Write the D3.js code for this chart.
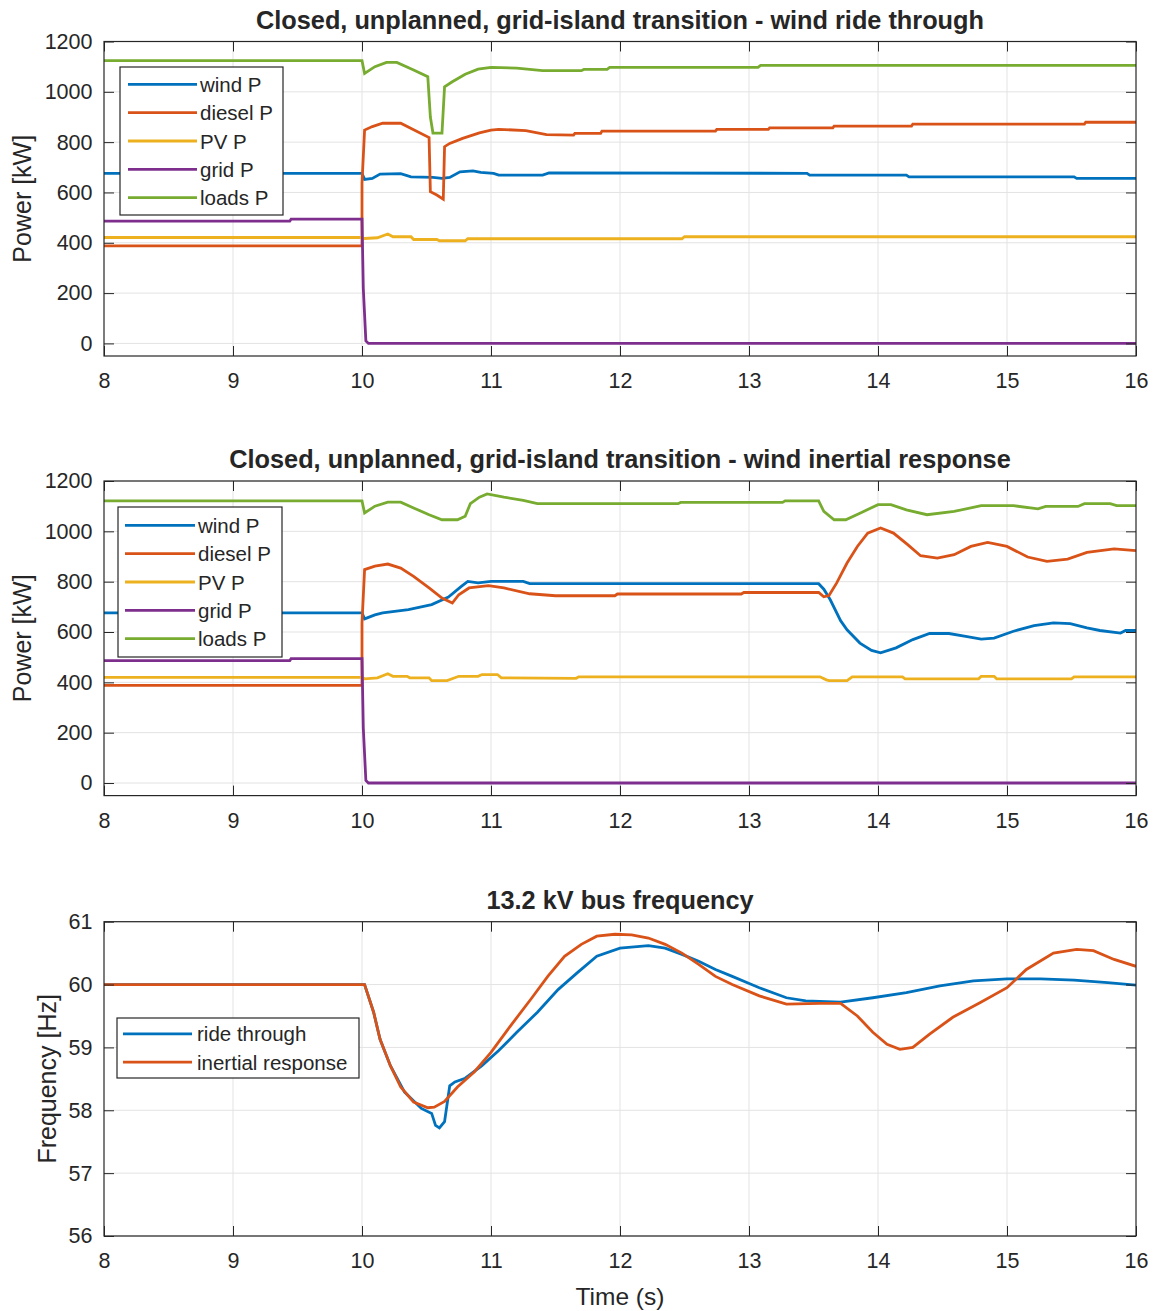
<!DOCTYPE html>
<html>
<head>
<meta charset="utf-8">
<script src="https://cdn.jsdelivr.net/npm/d3@7"></script>
<style>
  html, body { margin: 0; padding: 0; background: #fff; }
  svg { display: block; }
  text { font-family: "Liberation Sans", Arial, Helvetica, sans-serif; fill: #262626; }
</style>
</head>
<body>
<svg id="chart" width="1155" height="1311"></svg>
<script>
// ---------------- DATA ----------------
const xTicks = [8, 9, 10, 11, 12, 13, 14, 15, 16];
const powerTicks = [0, 200, 400, 600, 800, 1000, 1200];
const freqTicks = [56, 57, 58, 59, 60, 61];

const powerLabels = ["wind P", "diesel P", "PV P", "grid P", "loads P"];
const freqLabels = ["ride through", "inertial response"];

const titles = [
  "Closed, unplanned, grid-island transition - wind ride through",
  "Closed, unplanned, grid-island transition - wind inertial response",
  "13.2 kV bus frequency"
];

// Panel 1: wind ride through  [time s, kW]
const rtWind = [[8,676],[10.0,676],[10.02,652],[10.08,656],[10.14,673],[10.3,675],[10.38,662],[10.55,660],[10.62,656],[10.68,660],[10.76,682],[10.86,686],[10.92,680],[11.02,676],[11.06,669],[11.4,669],[11.45,678],[13.45,676],[13.47,669],[14.22,669],[14.24,662],[15.52,662],[15.54,656],[16,656]];
const rtDiesel = [[8,388],[10.0,388],[10.0,637],[10.02,848],[10.08,862],[10.16,875],[10.3,875],[10.52,818],[10.53,603],[10.58,590],[10.63,573],[10.64,782],[10.68,795],[10.78,815],[10.91,837],[11.0,848],[11.06,851],[11.27,846],[11.43,830],[11.64,828],[11.65,835],[11.85,835],[11.86,844],[12.74,844],[12.75,851],[13.15,851],[13.16,857],[13.65,857],[13.66,864],[14.26,864],[14.27,872],[15.6,872],[15.61,879],[16,879]];
const rtPV = [[8,421],[10.0,421],[10.02,417],[10.12,420],[10.2,435],[10.24,424],[10.38,424],[10.4,413],[10.58,413],[10.6,408],[10.8,408],[10.82,416],[12.48,416],[12.5,424],[16,424]];
const rtGrid = [[8,486],[9.44,486],[9.45,494],[10.0,494],[10.01,219],[10.03,10],[10.05,0],[16,0]];
const rtLoads = [[8,1124],[10.0,1124],[10.02,1073],[10.1,1100],[10.19,1117],[10.27,1117],[10.4,1087],[10.51,1060],[10.53,900],[10.55,836],[10.62,836],[10.64,1020],[10.7,1040],[10.8,1070],[10.9,1090],[11.0,1097],[11.2,1094],[11.4,1084],[11.7,1084],[11.72,1089],[11.9,1089],[11.92,1097],[13.07,1097],[13.09,1105],[16,1105]];

// Panel 2: wind inertial response  [time s, kW]
const irWind = [[8,676],[10.0,676],[10.02,652],[10.1,668],[10.16,676],[10.36,689],[10.54,709],[10.67,739],[10.77,781],[10.82,801],[10.9,795],[11.0,801],[11.25,801],[11.3,792],[13.54,792],[13.58,770],[13.63,728],[13.71,645],[13.76,609],[13.86,556],[13.95,527],[14.02,517],[14.14,537],[14.27,570],[14.4,594],[14.55,594],[14.68,583],[14.8,572],[14.9,576],[15.05,603],[15.21,625],[15.36,636],[15.49,633],[15.62,616],[15.72,606],[15.88,596],[15.92,606],[16,606]];
const irDiesel = [[8,388],[10.0,388],[10.0,636],[10.02,848],[10.1,862],[10.2,870],[10.3,854],[10.4,821],[10.52,775],[10.62,735],[10.7,715],[10.75,748],[10.83,775],[10.98,784],[11.1,775],[11.3,752],[11.5,744],[11.96,744],[11.98,751],[12.94,751],[12.96,757],[13.54,757],[13.58,740],[13.62,745],[13.68,795],[13.76,874],[13.84,940],[13.92,993],[14.02,1013],[14.12,993],[14.23,947],[14.33,903],[14.46,894],[14.59,907],[14.72,940],[14.85,956],[15.0,940],[15.16,898],[15.31,881],[15.47,890],[15.62,916],[15.83,930],[16,923]];
const irPV = [[8,420],[10.0,420],[10.02,414],[10.12,418],[10.2,434],[10.24,424],[10.35,424],[10.37,418],[10.52,418],[10.54,407],[10.66,407],[10.75,424],[10.9,424],[10.93,431],[11.05,431],[11.08,418],[11.66,416],[11.68,422],[13.55,422],[13.6,410],[13.62,407],[13.76,407],[13.8,422],[14.19,422],[14.21,414],[14.78,414],[14.8,424],[14.9,424],[14.92,414],[15.5,414],[15.52,422],[16,422]];
const irGrid = [[8,486],[9.44,486],[9.45,494],[10.0,494],[10.01,219],[10.03,10],[10.05,0],[16,0]];
const irLoads = [[8,1121],[10.0,1121],[10.02,1073],[10.1,1100],[10.2,1116],[10.3,1116],[10.4,1093],[10.52,1066],[10.62,1046],[10.74,1046],[10.8,1060],[10.84,1110],[10.91,1136],[10.97,1149],[11.1,1136],[11.25,1123],[11.36,1110],[12.45,1110],[12.47,1115],[13.26,1115],[13.28,1121],[13.54,1121],[13.58,1079],[13.66,1046],[13.75,1046],[13.86,1072],[14.0,1106],[14.1,1106],[14.22,1085],[14.38,1066],[14.59,1079],[14.8,1102],[15.05,1102],[15.24,1089],[15.3,1099],[15.55,1099],[15.6,1110],[15.8,1110],[15.85,1102],[16,1102]];

// Panel 3: 13.2 kV bus frequency  [time s, Hz]
const freqRide = [[8,60],[10.02,60],[10.09,59.56],[10.14,59.13],[10.22,58.71],[10.33,58.29],[10.46,58.03],[10.54,57.95],[10.57,57.76],[10.6,57.72],[10.64,57.82],[10.68,58.39],[10.72,58.45],[10.8,58.51],[10.93,58.71],[11.06,58.95],[11.2,59.24],[11.36,59.56],[11.52,59.92],[11.67,60.19],[11.82,60.45],[12.0,60.58],[12.22,60.62],[12.35,60.58],[12.48,60.48],[12.61,60.37],[12.74,60.24],[12.87,60.13],[13.02,60.0],[13.08,59.95],[13.29,59.79],[13.44,59.74],[13.71,59.72],[13.96,59.79],[14.22,59.87],[14.48,59.98],[14.74,60.06],[15.0,60.09],[15.26,60.09],[15.52,60.07],[15.78,60.03],[16,59.99]];
const freqInertial = [[8,60],[10.02,60],[10.09,59.56],[10.14,59.13],[10.22,58.71],[10.3,58.37],[10.4,58.13],[10.51,58.04],[10.56,58.05],[10.64,58.14],[10.74,58.37],[10.87,58.61],[11.0,58.92],[11.15,59.34],[11.31,59.77],[11.44,60.13],[11.57,60.45],[11.7,60.64],[11.82,60.77],[11.96,60.8],[12.09,60.79],[12.22,60.74],[12.35,60.64],[12.48,60.5],[12.61,60.32],[12.74,60.13],[12.87,60.0],[13.08,59.82],[13.29,59.69],[13.55,59.7],[13.71,59.7],[13.84,59.5],[13.96,59.24],[14.07,59.05],[14.17,58.97],[14.27,59.0],[14.4,59.21],[14.58,59.48],[14.79,59.71],[15.0,59.95],[15.15,60.24],[15.36,60.5],[15.54,60.56],[15.67,60.54],[15.83,60.4],[16,60.29]];

// ---------------- STYLE ----------------
const powerColors = ["#0072BD", "#D95319", "#EDB120", "#7E2F8E", "#77AC30"];
const freqColors = ["#0072BD", "#D95319"];

const svg = d3.select("#chart");
const axisColor = "#262626";
const gridColor = "#e3e3e3";

function drawPanel(cfg) {
  const x = d3.scaleLinear().domain([8, 16]).range([cfg.left, cfg.right]);
  const y = d3.scaleLinear().domain(cfg.yDomain).range([cfg.bottom, cfg.top]);
  const g = svg.append("g");

  // grid
  g.append("g").selectAll("line").data(xTicks.slice(1, -1)).join("line")
    .attr("x1", d => x(d)).attr("x2", d => x(d))
    .attr("y1", cfg.top).attr("y2", cfg.bottom)
    .attr("stroke", gridColor).attr("stroke-width", 1);
  g.append("g").selectAll("line").data(cfg.yTicks).join("line")
    .attr("x1", cfg.left).attr("x2", cfg.right)
    .attr("y1", d => y(d)).attr("y2", d => y(d))
    .attr("stroke", gridColor).attr("stroke-width", 1);

  // data lines
  const line = d3.line().x(d => x(d[0])).y(d => y(d[1]));
  const clipId = "clip" + cfg.id;
  svg.append("clipPath").attr("id", clipId).append("rect")
    .attr("x", cfg.left).attr("y", cfg.top)
    .attr("width", cfg.right - cfg.left).attr("height", cfg.bottom - cfg.top);
  const lg = g.append("g").attr("clip-path", `url(#${clipId})`);
  cfg.series.forEach((s, i) => {
    lg.append("path").datum(s).attr("d", line)
      .attr("fill", "none").attr("stroke", cfg.colors[i])
      .attr("stroke-width", 2.8).attr("stroke-linejoin", "miter");
  });

  // axes via d3 axis (inward ticks)
  const tl = 10;
  const bottomAxis = d3.axisBottom(x).tickValues(xTicks).tickSize(-tl).tickPadding(17).tickFormat(d3.format("d"));
  const topAxis = d3.axisTop(x).tickValues(xTicks).tickSize(-tl).tickFormat("");
  const leftAxis = d3.axisLeft(y).tickValues(cfg.yTicks).tickSize(-tl).tickPadding(11.5).tickFormat(d3.format("d"));
  const rightAxis = d3.axisRight(y).tickValues(cfg.yTicks).tickSize(-tl).tickFormat("");

  const styleAxis = sel => {
    sel.select(".domain").remove();
    sel.selectAll(".tick line").attr("stroke", axisColor).attr("stroke-width", 1);
    sel.selectAll(".tick text").attr("fill", axisColor)
      .style("font-family", '"Liberation Sans", Arial, sans-serif').style("font-size", "21.5px");
  };
  g.append("g").attr("transform", `translate(0,${cfg.bottom})`).call(bottomAxis).call(styleAxis);
  g.append("g").attr("transform", `translate(0,${cfg.top})`).call(topAxis).call(styleAxis);
  g.append("g").attr("transform", `translate(${cfg.left},0)`).call(leftAxis).call(styleAxis);
  g.append("g").attr("transform", `translate(${cfg.right},0)`).call(rightAxis).call(styleAxis);

  // box
  g.append("rect").attr("x", cfg.left).attr("y", cfg.top)
    .attr("width", cfg.right - cfg.left).attr("height", cfg.bottom - cfg.top)
    .attr("fill", "none").attr("stroke", axisColor).attr("stroke-width", 1.2);

  // title
  g.append("text").attr("x", (cfg.left + cfg.right) / 2).attr("y", cfg.top - 13)
    .attr("text-anchor", "middle").style("font-weight", "bold").style("font-size", "25.3px")
    .attr("fill", "#111").text(cfg.title);

  // y label
  g.append("text")
    .attr("transform", `translate(${cfg.yLabelX},${(cfg.top + cfg.bottom) / 2}) rotate(-90)`)
    .attr("text-anchor", "middle").attr("dominant-baseline", "central")
    .style("font-size", "25px").text(cfg.yLabel);

  // legend
  const L = cfg.legend;
  const lgd = g.append("g");
  lgd.append("rect").attr("x", L.x).attr("y", L.y).attr("width", L.w).attr("height", L.h)
    .attr("fill", "#fff").attr("stroke", axisColor).attr("stroke-width", 1.2);
  const n = cfg.labels.length;
  const sp = 28.3;
  const y0 = L.y + (L.h - (n - 1) * sp) / 2;
  cfg.labels.forEach((lab, i) => {
    const yy = y0 + i * sp;
    lgd.append("line").attr("x1", L.x + L.lx0).attr("x2", L.x + L.lx1)
      .attr("y1", yy).attr("y2", yy).attr("stroke", cfg.colors[i]).attr("stroke-width", 2.8);
    lgd.append("text").attr("x", L.x + L.tx).attr("y", yy)
      .attr("dominant-baseline", "central").style("font-size", "20.5px").text(lab);
  });
}

drawPanel({
  id: 1, left: 104, right: 1136, top: 41.5, bottom: 356, yDomain: [-50, 1200], yTicks: powerTicks,
  series: [rtWind, rtDiesel, rtPV, rtGrid, rtLoads], colors: powerColors, labels: powerLabels,
  title: titles[0], yLabel: "Power [kW]", yLabelX: 22,
  legend: { x: 120, y: 67, w: 163, h: 148, lx0: 8, lx1: 77, tx: 80 }
});
drawPanel({
  id: 2, left: 104, right: 1136, top: 481, bottom: 795.6, yDomain: [-50, 1200], yTicks: powerTicks,
  series: [irWind, irDiesel, irPV, irGrid, irLoads], colors: powerColors, labels: powerLabels,
  title: titles[1], yLabel: "Power [kW]", yLabelX: 22,
  legend: { x: 118, y: 507, w: 164, h: 150, lx0: 7, lx1: 77, tx: 80 }
});
drawPanel({
  id: 3, left: 104, right: 1136, top: 921.7, bottom: 1236, yDomain: [56, 61], yTicks: freqTicks,
  series: [freqRide, freqInertial], colors: freqColors, labels: freqLabels,
  title: titles[2], yLabel: "Frequency [Hz]", yLabelX: 47,
  legend: { x: 117, y: 1018, w: 242, h: 60, lx0: 6, lx1: 75, tx: 80 }
});

svg.append("text").attr("x", 620).attr("y", 1296).attr("text-anchor", "middle")
  .attr("dominant-baseline", "central").style("font-size", "24.5px").text("Time (s)");
</script>
</body>
</html>
